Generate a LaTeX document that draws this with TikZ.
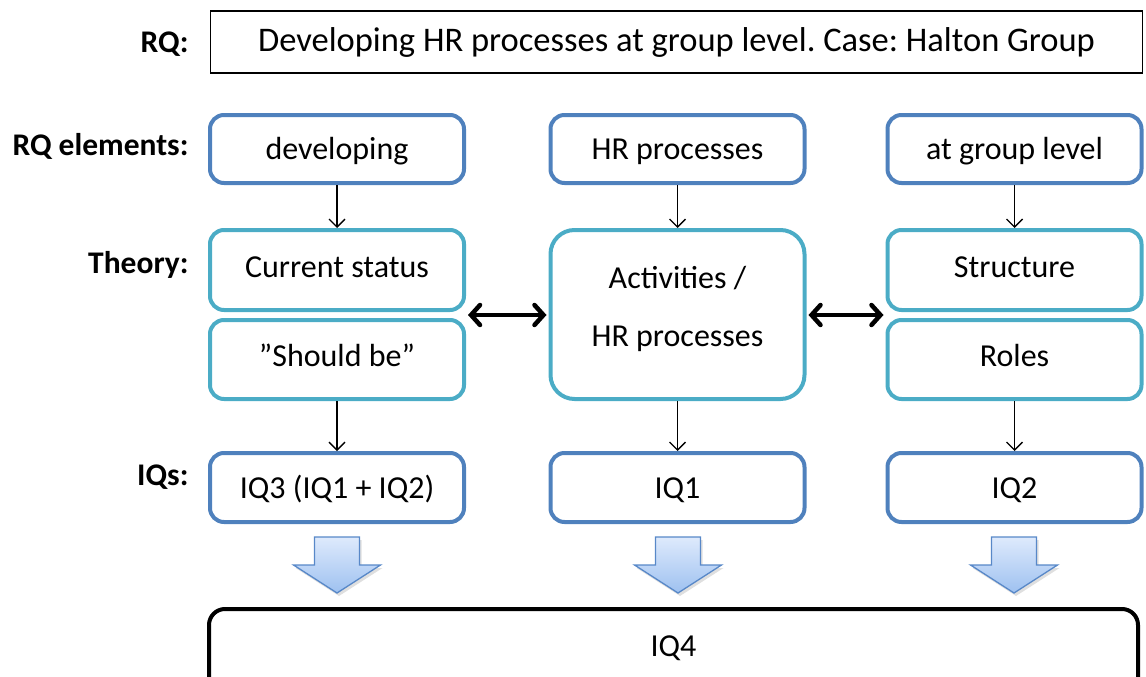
\documentclass[tikz,border=0pt]{standalone}
\usepackage{fontspec}
\setmainfont{Carlito}
\frenchspacing
\usetikzlibrary{arrows.meta,calc,shadows}

\definecolor{rqblue}{RGB}{79,129,189}
\definecolor{thaqua}{RGB}{75,172,198}
\definecolor{arrtop}{RGB}{222,234,252}
\definecolor{arrbot}{RGB}{158,193,240}
\definecolor{arredge}{RGB}{88,136,200}

\tikzset{
  rowlabel/.style={anchor=east, font=\fontsize{31.5}{36}\selectfont\bfseries},
  boxtext/.style={font=\fontsize{32}{38}\selectfont, align=center},
  rqbox/.style={draw=black, line width=1.3pt, minimum width=932, minimum height=62,
                font=\fontsize{34.5}{40}\selectfont},
  elembox/.style={boxtext, draw=rqblue, line width=4pt, rounded corners=14pt,
                  minimum width=254, minimum height=68, text height=25pt, text depth=3.4pt},
  iqbox/.style={elembox},
  theorybox/.style={boxtext, draw=thaqua, line width=4pt, rounded corners=14pt,
                    minimum width=254, text height=20pt, text depth=5.4pt},
  finalbox/.style={draw=black, line width=4pt, rounded corners=16pt,
                   minimum width=929, minimum height=110},
  thinarrow/.style={-{Straight Barb[length=8pt,width=16pt]}, line width=1.4pt},
  dblarrow/.style={{Straight Barb[length=9pt,width=20pt,line cap=round]}-{Straight Barb[length=9pt,width=20pt,line cap=round]},
                   line width=4.5pt, line cap=round},
  blockarrow/.style={draw=arredge, line width=1.3pt, top color=arrtop, bottom color=arrbot,
                     drop shadow={shadow xshift=2pt, shadow yshift=-3pt, opacity=0.25}}
}

\begin{document}
\begin{tikzpicture}[x=1pt,y=-1pt]
  \useasboundingbox (0,0) rectangle (1146,677);

  % research question
  \node[rqbox] (rq) at (676.5,42) {Developing HR processes at group level. Case: Halton Group};
  \node[rowlabel] (lrq) at (192,44) {RQ:};

  % row labels
  \node[rowlabel] (lel) at (192,146) {RQ elements:};
  \node[rowlabel] (lth) at (192,265) {Theory:};
  \node[rowlabel] (liq) at (192,477) {IQs:};

  % RQ elements
  \node[elembox] (dev) at (337,149) {developing};
  \node[elembox] (hrp) at (677.5,149) {HR processes};
  \node[elembox] (grp) at (1014.5,149) {at group level};

  % theory
  \node[theorybox, minimum height=80] (cur) at (337,270) {Current status};
  \node[theorybox, minimum height=79] (should) at (337,359.5) {”Should be”};
  \node[theorybox, minimum height=169, rounded corners=24pt] (act) at (677.5,314.5) {};
  \node[boxtext] (acttxt) at (677.5,309) {Activities /\\[20pt]HR processes};
  \node[theorybox, minimum height=80] (str) at (1014.5,270) {Structure};
  \node[theorybox, minimum height=79] (roles) at (1014.5,359.5) {Roles};

  % interview questions
  \node[iqbox, minimum height=69] (iq3) at (337,487.5) {IQ3 (IQ1 + IQ2)};
  \node[iqbox, minimum height=69] (iq1) at (677.5,487.5) {IQ1};
  \node[iqbox, minimum height=69] (iq2) at (1014.5,487.5) {IQ2};

  % final question
  \node[finalbox] (iq4box) at (673.5,664) {};
  \node[boxtext] (iq4) at (673.5,648) {IQ4};

  % element -> theory -> IQ
  \draw[thinarrow] (dev) -- (cur);
  \draw[thinarrow] (hrp) -- (act);
  \draw[thinarrow] (grp) -- (str);
  \draw[thinarrow] (should) -- (iq3);
  \draw[thinarrow] (act) -- (iq1);
  \draw[thinarrow] (roles) -- (iq2);

  % links between theory columns
  \coordinate (gl) at ($(cur.south east)!0.5!(should.north east)$);
  \coordinate (gr) at ($(str.south west)!0.5!(roles.north west)$);
  \draw[dblarrow, shorten <=2pt, shorten >=2pt] (gl) -- (gl -| act.west);
  \draw[dblarrow, shorten <=2pt, shorten >=2pt] (gr -| act.east) -- (gr);

  % block arrows into IQ4
  \foreach \cx in {337, 678, 1014}{
    \path[blockarrow] (\cx-22.5,537) -- (\cx+22.5,537) -- (\cx+22.5,565) -- (\cx+43.5,565)
        -- (\cx,593) -- (\cx-43.5,565) -- (\cx-22.5,565) -- cycle;
  }
\end{tikzpicture}
\end{document}
